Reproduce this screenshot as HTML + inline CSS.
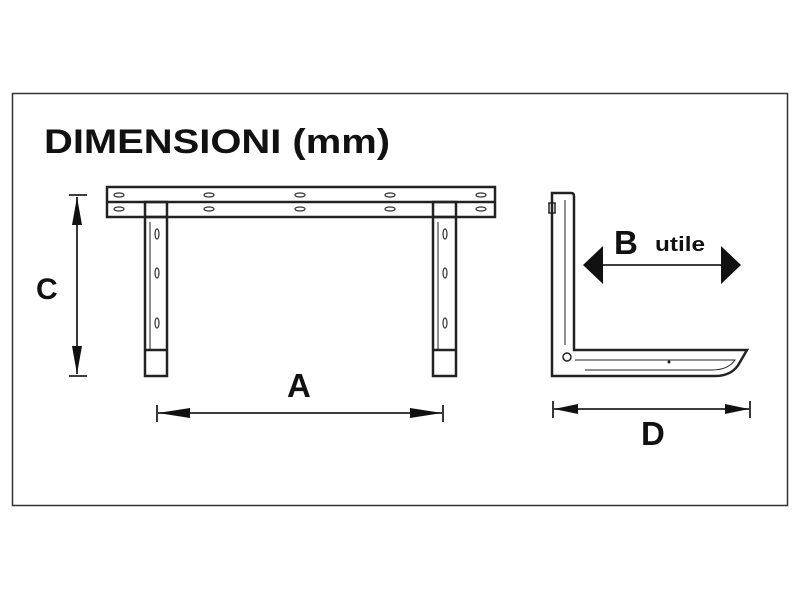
<!DOCTYPE html>
<html><head><style>body{margin:0;background:#fff}svg{display:block}</style></head><body>
<svg width="800" height="600" viewBox="0 0 800 600" xmlns="http://www.w3.org/2000/svg" font-family="Liberation Sans, sans-serif" font-weight="bold">
<rect x="12.5" y="93.5" width="775" height="412" fill="#fff" stroke="#333" stroke-width="1.5"/>
<text x="44" y="153" font-size="34" fill="#111" textLength="346" lengthAdjust="spacingAndGlyphs">DIMENSIONI (mm)</text>
<g fill="none" stroke="#222" stroke-width="2.5">
<rect x="107" y="187" width="388" height="30"/>
<line x1="107" y1="202" x2="495" y2="202"/>
<rect x="145" y="202" width="22" height="174"/>
<line x1="145" y1="217" x2="167" y2="217"/>
<line x1="145" y1="350" x2="167" y2="350"/>
<line x1="150" y1="222" x2="150" y2="350" stroke-width="1"/>
<rect x="433" y="202" width="23" height="174"/>
<line x1="433" y1="217" x2="456" y2="217"/>
<line x1="433" y1="350" x2="456" y2="350"/>
<line x1="438" y1="222" x2="438" y2="350" stroke-width="1"/>
</g>
<g fill="#fff" stroke="#333" stroke-width="1.2">
<ellipse cx="119" cy="195" rx="5" ry="2"/><ellipse cx="119" cy="209" rx="5" ry="2"/>
<ellipse cx="209" cy="195" rx="5" ry="2"/><ellipse cx="209" cy="209" rx="5" ry="2"/>
<ellipse cx="300" cy="195" rx="5" ry="2"/><ellipse cx="300" cy="209" rx="5" ry="2"/>
<ellipse cx="390" cy="195" rx="5" ry="2"/><ellipse cx="390" cy="209" rx="5" ry="2"/>
<ellipse cx="481" cy="195" rx="5" ry="2"/><ellipse cx="481" cy="209" rx="5" ry="2"/>
<ellipse cx="157" cy="234" rx="2" ry="5"/><ellipse cx="157" cy="273" rx="2" ry="5"/><ellipse cx="157" cy="323" rx="2" ry="5"/>
<ellipse cx="445" cy="234" rx="2" ry="5"/><ellipse cx="445" cy="273" rx="2" ry="5"/><ellipse cx="445" cy="323" rx="2" ry="5"/>
</g>
<g stroke="#222" stroke-width="1.8" fill="#111">
<line x1="69" y1="195" x2="87" y2="195"/><line x1="69" y1="376" x2="87" y2="376"/>
<line x1="77" y1="197" x2="77" y2="374"/>
<polygon points="77,197 72,225 82,225" stroke="none"/><polygon points="77,374 72,346 82,346" stroke="none"/>
<line x1="157" y1="405" x2="157" y2="422"/><line x1="443" y1="405" x2="443" y2="422"/>
<line x1="158" y1="413" x2="442" y2="413"/>
<polygon points="158,413 190,408 190,418" stroke="none"/><polygon points="442,413 410,408 410,418" stroke="none"/>
<line x1="553" y1="401" x2="553" y2="418"/><line x1="750" y1="401" x2="750" y2="418"/>
<line x1="554" y1="409" x2="749" y2="409"/>
<polygon points="554,409 578,404 578,414" stroke="none"/><polygon points="749,409 725,404 725,414" stroke="none"/>
<line x1="600" y1="265" x2="725" y2="265"/>
<polygon points="583,265 603,246 603,284" stroke="none"/><polygon points="741,265 721,246 721,284" stroke="none"/>
</g>
<text x="36" y="299" font-size="30" fill="#111">C</text>
<text x="287" y="397" font-size="33" fill="#111">A</text>
<text x="641" y="445" font-size="33" fill="#111">D</text>
<text x="614" y="254" font-size="33" fill="#111">B</text>
<text x="655" y="251" font-size="20" fill="#111" textLength="50" lengthAdjust="spacingAndGlyphs">utile</text>
<g fill="none" stroke="#222" stroke-width="2.5">
<path d="M552,376 V193 H571 Q574,193 574,196 V350 H747 L740,362 Q733,376 715,376 Z"/>
<line x1="565" y1="200" x2="565" y2="345" stroke-width="1"/>
<path d="M575,360 H735 Q728,370 712,370 H585" stroke-width="1"/>
<circle cx="567" cy="357" r="4" stroke-width="1.5"/>
<rect x="549" y="203" width="6" height="10" stroke-width="1.5"/>
</g>
<circle cx="669" cy="362" r="1.5" fill="#222"/>
</svg>
</body></html>
